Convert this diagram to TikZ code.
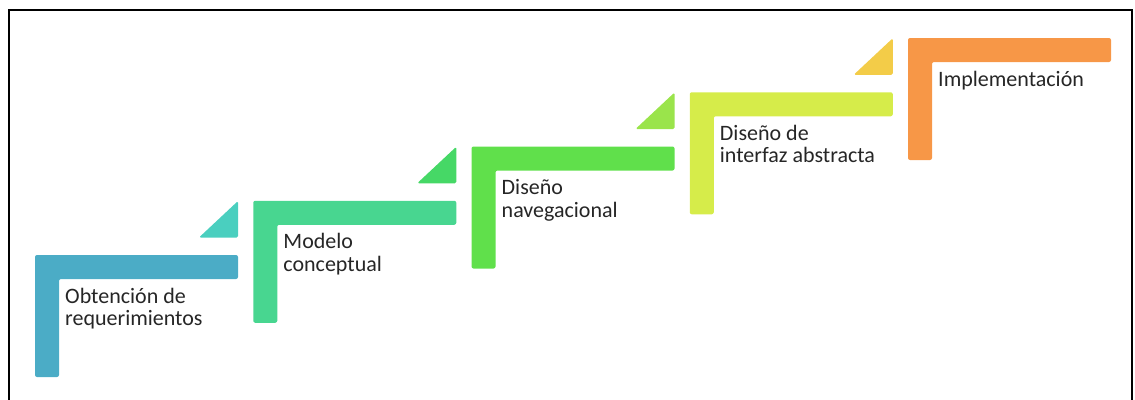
\documentclass[tikz,border=0pt]{standalone}
\usepackage{fontspec}
\setmainfont{Carlito}
\definecolor{cA}{HTML}{4BACC6}
\definecolor{tA}{HTML}{4ACFBF}
\definecolor{cB}{HTML}{48D690}
\definecolor{tB}{HTML}{46D866}
\definecolor{cC}{HTML}{60E04B}
\definecolor{tC}{HTML}{9AE44B}
\definecolor{cD}{HTML}{D6EC4A}
\definecolor{tD}{HTML}{F3CC48}
\definecolor{cE}{HTML}{F79747}
\definecolor{txt}{HTML}{262626}
\tikzset{
  stepshape/.style={rounded corners=2pt},
  tri/.style={rounded corners=1.5pt},
  steplabel/.style={anchor=base west, align=left, inner sep=0pt, text=txt,
     font=\fontsize{22}{22.5}\selectfont},
  frame/.style={line width=1.6pt, black}
}
\newcommand{\stepL}[3]{%
  % #1 x0, #2 top, #3 colour
  \fill[stepshape,#3] (#1,#2) -- ++(203,0) -- ++(0,24) -- ++(-179,0) -- ++(0,98) -- ++(-24,0) -- cycle;}
\newcommand{\triS}[3]{%
  % #1 right x, #2 top of next step, #3 colour
  \fill[tri,#3] (#1,#2-54) -- (#1,#2-17.5) -- (#1-39,#2-17.5) -- cycle;}
\begin{document}
\begin{tikzpicture}[x=1pt,y=-1pt]
\useasboundingbox (0,0) rectangle (1135,399);
\draw[frame] (9,400) -- (9,10) -- (1132,10) -- (1132,400);
% steps
\stepL{35}{255}{cA}
\stepL{253.25}{200.75}{cB}
\stepL{471.5}{146.5}{cC}
\stepL{689.75}{92.25}{cD}
\stepL{908}{38}{cE}
% triangles
\triS{238}{255}{tA}
\triS{456.25}{200.75}{tB}
\triS{674.5}{146.5}{tC}
\triS{892.75}{92.25}{tD}
% labels (base anchor = baseline of the last line)
\node[steplabel] (l1) at (65,325.5) {Obtención de\\requerimientos};
\node[steplabel] (l2) at (283.25,271.25) {Modelo\\conceptual};
\node[steplabel] (l3) at (501.5,217) {Diseño\\navegacional};
\node[steplabel] (l4) at (719.75,162.75) {Diseño de\\interfaz abstracta};
\node[steplabel] (l5) at (938,86) {Implementación};
\end{tikzpicture}
\end{document}
